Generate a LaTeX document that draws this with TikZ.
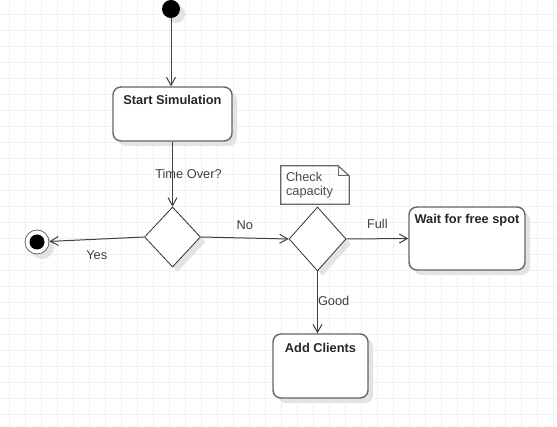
\documentclass[tikz,border=0pt]{standalone}
\usepackage{fontspec}
\setmainfont{Liberation Sans}
\usetikzlibrary{arrows.meta, positioning, shapes.geometric, shadows, calc}

\begin{document}
\begin{tikzpicture}[x=1pt, y=-1pt,
    arrow/.style={-{Straight Barb[length=8pt, width=9pt]}, draw=black!75, line width=1pt},
    shade/.style={drop shadow={shadow xshift=5pt, shadow yshift=-5pt, fill=black!11, opacity=1}},
    activity/.style={draw=black!60, line width=1.4pt, fill=white, rounded corners=8pt, shade},
    title/.style={font=\fontsize{12.8}{14}\selectfont\bfseries, text=black!85, inner sep=0pt},
    decision/.style={diamond, draw=black!80, line width=0.8pt, fill=white, inner sep=0pt, shade},
    lbl/.style={font=\fontsize{12.8}{14}\selectfont, text=black!75, inner sep=0pt},
    gridline/.style={draw=black!6, line width=1pt}]

    % Background grid
    \useasboundingbox (0,0) rectangle (557,427);
    \fill[white] (0,0) rectangle (557,427);
    \foreach \x in {9,25,...,553} \draw[gridline] (\x,0) -- (\x,427);
    \foreach \y in {15,31,...,423} \draw[gridline] (0,\y) -- (557,\y);

    % Initial and final states
    \node[circle, fill=black, minimum size=18pt, inner sep=0pt, shade] (start) at (171,9) {};
    \node[circle, draw=black!60, line width=0.8pt, fill=white, minimum size=24pt, inner sep=0pt, shade,
          path picture={\fill[black] (path picture bounding box.center) circle (7.5pt);}] (stop) at (37,242) {};

    % Activities
    \node[activity, minimum width=119pt, minimum height=54pt,
          label={[title, anchor=center, yshift=-14pt]north:Start Simulation}] (sim) at (172.5,114) {};
    \node[activity, minimum width=116pt, minimum height=63pt,
          label={[title, anchor=center, yshift=-14pt]north:Wait for free spot}] (wait) at (467,238.5) {};
    \node[activity, minimum width=95pt, minimum height=64pt,
          label={[title, anchor=center, yshift=-15pt]north:Add Clients}] (add) at (320.5,366) {};

    % Decisions
    \node[decision, minimum width=56pt, minimum height=60pt] (over) at (172.5,237) {};
    \node[decision, minimum width=57pt, minimum height=64pt] (cap) at (317.5,239) {};

    % Note on the capacity check
    \node[lbl, text=black!70, text width=58pt, align=left, inner sep=5pt,
          font=\fontsize{12.8}{13.5}\selectfont, minimum height=38pt] (note) at (315,185) {Check\\capacity};
    \draw[draw=black!60, line width=1.2pt]
        (note.north west) -- ([xshift=-11pt]note.north east) -- ([yshift=-10pt]note.north east)
        -- (note.south east) -- (note.south west) -- cycle;
    \draw[draw=black!60, line width=1pt]
        ([xshift=-11pt]note.north east) -- ([xshift=-11pt, yshift=-10pt]note.north east)
        -- ([yshift=-10pt]note.north east);

    % Connectors
    \draw[arrow] (start) -- (start |- sim.north);
    \draw[arrow] (sim.south) -- node[lbl, xshift=16pt] {Time Over?} (over.north);
    \draw[arrow] (over.west) -- node[lbl, below=11pt] {Yes} (stop);
    \draw[arrow] (over.east) -- node[lbl, above=8pt] {No} (cap.west);
    \draw[arrow] (cap.east) -- node[lbl, above=10pt] {Full} (wait.west);
    \draw[arrow] (cap.south) -- node[lbl, right=0pt, yshift=1pt] {Good} (cap.south |- add.north);
\end{tikzpicture}
\end{document}
